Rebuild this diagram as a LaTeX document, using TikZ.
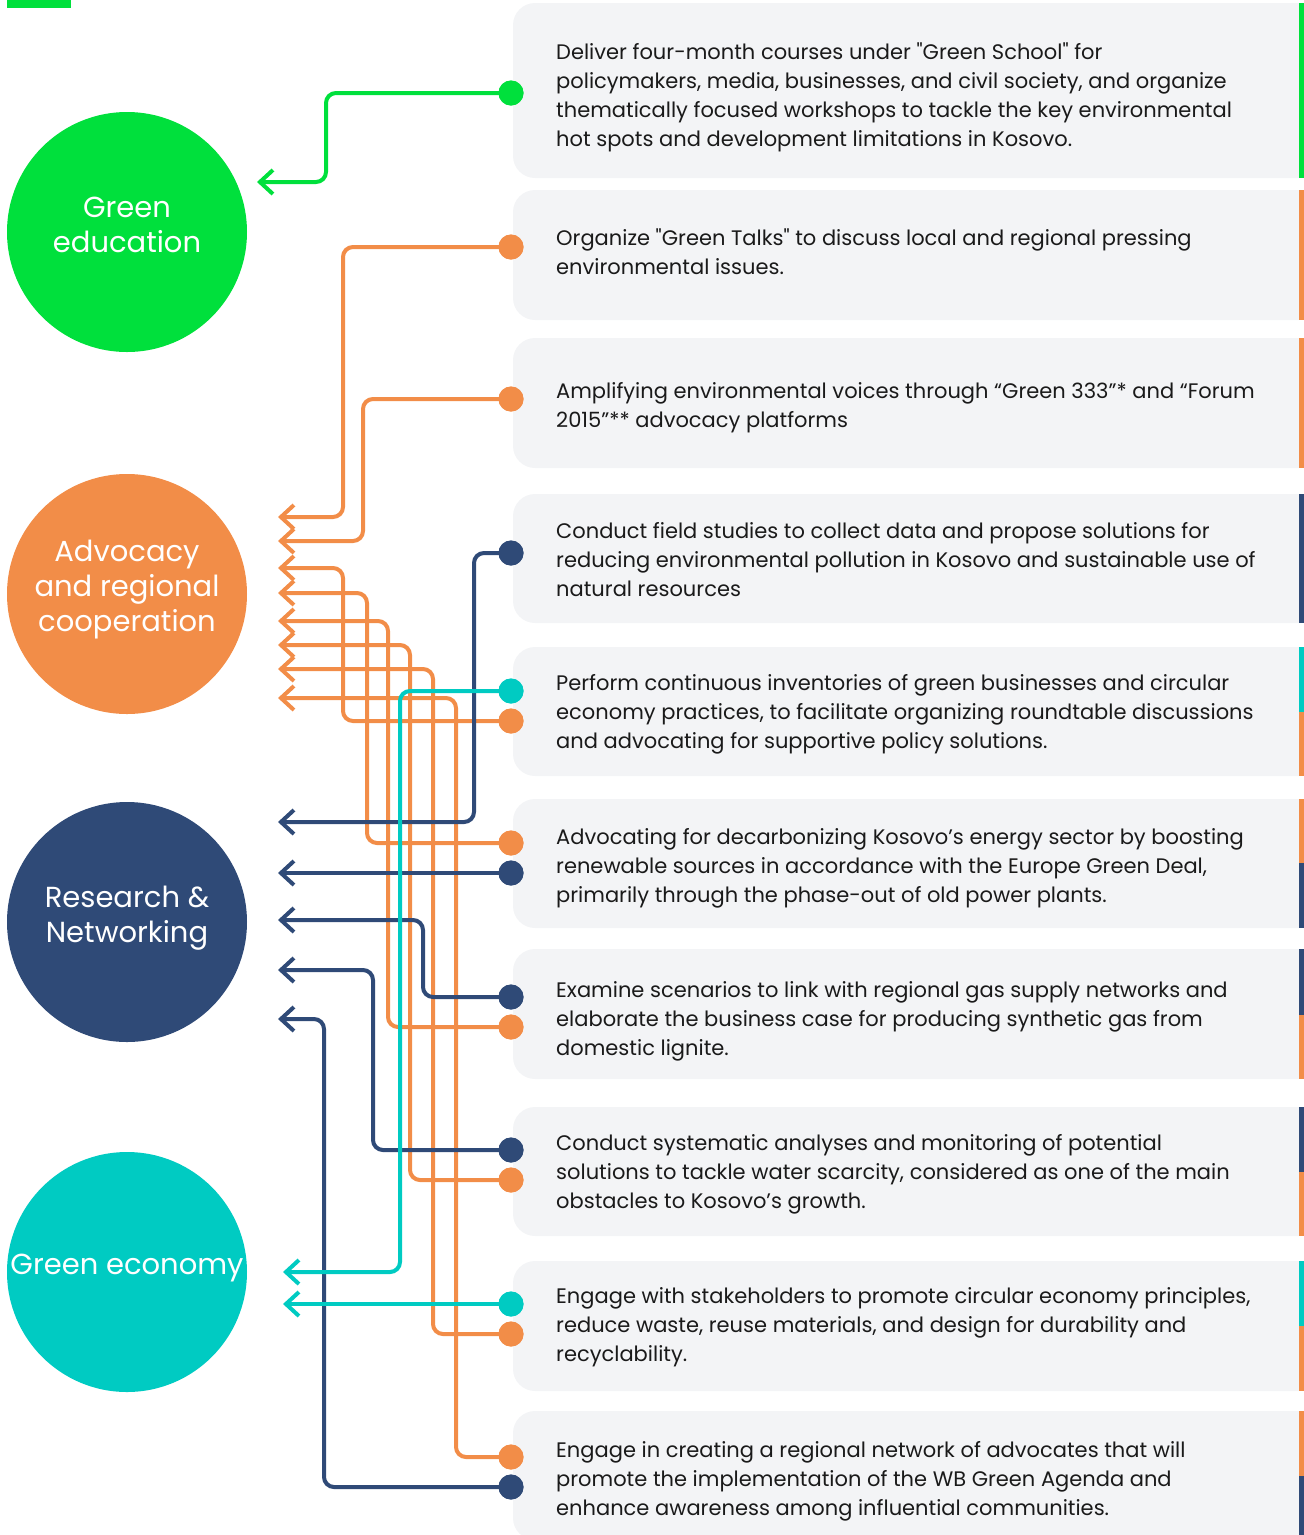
\documentclass[tikz,border=0pt]{standalone}
\usepackage{fontspec}
\setmainfont{Poppins}[Ligatures=TeXOff]
\usetikzlibrary{arrows.meta}
\definecolor{cgreen}{HTML}{00E03C}
\definecolor{corange}{HTML}{F28D48}
\definecolor{cnavy}{HTML}{2F4A77}
\definecolor{cteal}{HTML}{00CBC2}
\definecolor{cbox}{HTML}{F3F4F6}
\definecolor{ctext}{HTML}{1A1A1A}
\tikzset{
  conn/.style={line width=4pt, rounded corners=10pt, -{Straight Barb[length=13pt,width=24pt]}},
  dot/.style={circle, fill=#1, inner sep=0pt, minimum size=25pt},
  bigcirc/.style={circle, fill=#1, inner sep=0pt, minimum size=240pt},
  circtext/.style={text=white, align=center, font=\fontsize{29}{35}\selectfont, inner sep=0pt, anchor=base},
  boxtext/.style={text=ctext, align=left, font=\fontsize{21}{29}\selectfont, inner sep=0pt, anchor=base west},
}
\begin{document}
\begin{tikzpicture}[x=1pt,y=-1pt]
\useasboundingbox (0,0) rectangle (1304,1535);
% top-left tab
\fill[cgreen] (7,0) rectangle (71,8);
% boxes
\foreach \t/\b in {3/178,190/320,338/468,494/623,647/776,799/928,949/1079,1107/1236,1261/1391,1411/1540}{
  \fill[cbox] (1299,\t) [rounded corners=22pt] -- (513,\t) -- (513,\b) [sharp corners] -- (1299,\b) -- cycle;
}
% colour bars
\fill[cgreen] (1299,3) rectangle (1304,178);
\fill[corange] (1299,190) rectangle (1304,320);
\fill[corange] (1299,338) rectangle (1304,468);
\fill[cnavy] (1299,494) rectangle (1304,623);
\fill[cteal] (1299,647) rectangle (1304,712);
\fill[corange] (1299,712) rectangle (1304,776);
\fill[corange] (1299,799) rectangle (1304,863);
\fill[cnavy] (1299,863) rectangle (1304,928);
\fill[cnavy] (1299,949) rectangle (1304,1015);
\fill[corange] (1299,1015) rectangle (1304,1079);
\fill[cnavy] (1299,1107) rectangle (1304,1172);
\fill[corange] (1299,1172) rectangle (1304,1236);
\fill[cteal] (1299,1261) rectangle (1304,1326);
\fill[corange] (1299,1326) rectangle (1304,1391);
\fill[corange] (1299,1411) rectangle (1304,1476);
\fill[cnavy] (1299,1476) rectangle (1304,1535);

% big circles
\node[bigcirc=cgreen] (cg) at (127,232) {};
\node[bigcirc=corange] (co) at (127,594) {};
\node[bigcirc=cnavy] (cn) at (127,922) {};
\node[bigcirc=cteal] (ct) at (127,1272) {};
% (base anchor = last line baseline)
\node[circtext] (cgt) at (127,252) {Green\\education};
\node[circtext] (cot) at (127,631) {Advocacy\\and regional\\cooperation};
\node[circtext] (cnt) at (127,942) {Research \&\\Networking};
\node[circtext] (ctt) at (127,1274) {Green economy};

% texts (anchored at the baseline of the last line)
\node[boxtext] (x1) at (556,146) {Deliver four-month courses under "Green School" for\\policymakers, media, businesses, and civil society, and organize\\thematically focused workshops to tackle the key environmental\\hot spots and development limitations in Kosovo.};
\node[boxtext] (x2) at (556,274) {Organize "Green Talks" to discuss local and regional pressing\\environmental issues.};
\node[boxtext] (x3) at (556,427) {Amplifying environmental voices through “Green 333”* and “Forum\\2015”** advocacy platforms};
\node[boxtext] (x4) at (556,596) {Conduct field studies to collect data and propose solutions for\\reducing environmental pollution in Kosovo and sustainable use of\\natural resources};
\node[boxtext] (x5) at (556,748) {Perform continuous inventories of green businesses and circular\\economy practices, to facilitate organizing roundtable discussions\\and advocating for supportive policy solutions.};
\node[boxtext] (x6) at (556,902) {Advocating for decarbonizing Kosovo’s energy sector by boosting\\renewable sources in accordance with the Europe Green Deal,\\primarily through the phase-out of old power plants.};
\node[boxtext] (x7) at (556,1055) {Examine scenarios to link with regional gas supply networks and\\elaborate the business case for producing synthetic gas from\\domestic lignite.};
\node[boxtext] (x8) at (556,1208) {Conduct systematic analyses and monitoring of potential\\solutions to tackle water scarcity, considered as one of the main\\obstacles to Kosovo’s growth.};
\node[boxtext] (x9) at (556,1361) {Engage with stakeholders to promote circular economy principles,\\reduce waste, reuse materials, and design for durability and\\recyclability.};
\node[boxtext] (x10) at (556,1515) {Engage in creating a regional network of advocates that will\\promote the implementation of the WB Green Agenda and\\enhance awareness among influential communities.};

% dots
\node[dot=cgreen] (g1) at (511,93) {};
\node[dot=corange] (o2) at (511,247) {};
\node[dot=corange] (o3) at (511,399) {};
\node[dot=cnavy] (n4) at (511,553) {};
\node[dot=cteal] (t5) at (511,691) {};
\node[dot=corange] (o5) at (511,721) {};
\node[dot=corange] (o6) at (511,843) {};
\node[dot=cnavy] (n6) at (511,873) {};
\node[dot=cnavy] (n7) at (511,997) {};
\node[dot=corange] (o7) at (511,1027) {};
\node[dot=cnavy] (n8) at (511,1150) {};
\node[dot=corange] (o8) at (511,1180) {};
\node[dot=cteal] (t9) at (511,1304) {};
\node[dot=corange] (o9) at (511,1334) {};
\node[dot=corange] (o10) at (511,1457) {};
\node[dot=cnavy] (n10) at (511,1487) {};

% arrow ends
\coordinate (ag) at (257,182);
\coordinate (a2) at (278,517);
\coordinate (a3) at (278,541);
\coordinate (a5) at (278,568);
\coordinate (a6) at (278,593);
\coordinate (a7) at (278,621);
\coordinate (a8) at (278,645);
\coordinate (a9) at (278,669);
\coordinate (a10) at (278,698);
\coordinate (b4) at (278,822);
\coordinate (b6) at (278,873);
\coordinate (b7) at (278,920);
\coordinate (b8) at (278,970);
\coordinate (b10) at (278,1019);
\coordinate (e5) at (283,1272);
\coordinate (e9) at (283,1304);

\draw[conn, cgreen] (g1.center) -| (326,182) -- (ag);
\draw[conn, corange] (o2.center) -| (343,517) -- (a2);
\draw[conn, corange] (o3.center) -| (363,541) -- (a3);
\draw[conn, corange] (o5.center) -| (343,568) -- (a5);
\draw[conn, corange] (o6.center) -| (367,593) -- (a6);
\draw[conn, corange] (o7.center) -| (388,621) -- (a7);
\draw[conn, corange] (o8.center) -| (410,645) -- (a8);
\draw[conn, corange] (o9.center) -| (433,669) -- (a9);
\draw[conn, corange] (o10.center) -| (456,698) -- (a10);
\draw[conn, cnavy] (n4.center) -| (474,822) -- (b4);
\draw[conn, cnavy] (n6.center) -- (b6);
\draw[conn, cnavy] (n7.center) -| (423,920) -- (b7);
\draw[conn, cnavy] (n8.center) -| (373,970) -- (b8);
\draw[conn, cnavy] (n10.center) -| (324,1019) -- (b10);
\draw[conn, cteal] (t5.center) -| (400,1272) -- (e5);
\draw[conn, cteal] (t9.center) -- (e9);
% redraw dots on top of the connectors
\foreach \n/\c in {g1/cgreen,o2/corange,o3/corange,n4/cnavy,t5/cteal,o5/corange,o6/corange,n6/cnavy,n7/cnavy,o7/corange,n8/cnavy,o8/corange,t9/cteal,o9/corange,o10/corange,n10/cnavy}{
  \fill[\c] (\n.center) circle (12.5pt);
}
\end{tikzpicture}
\end{document}
